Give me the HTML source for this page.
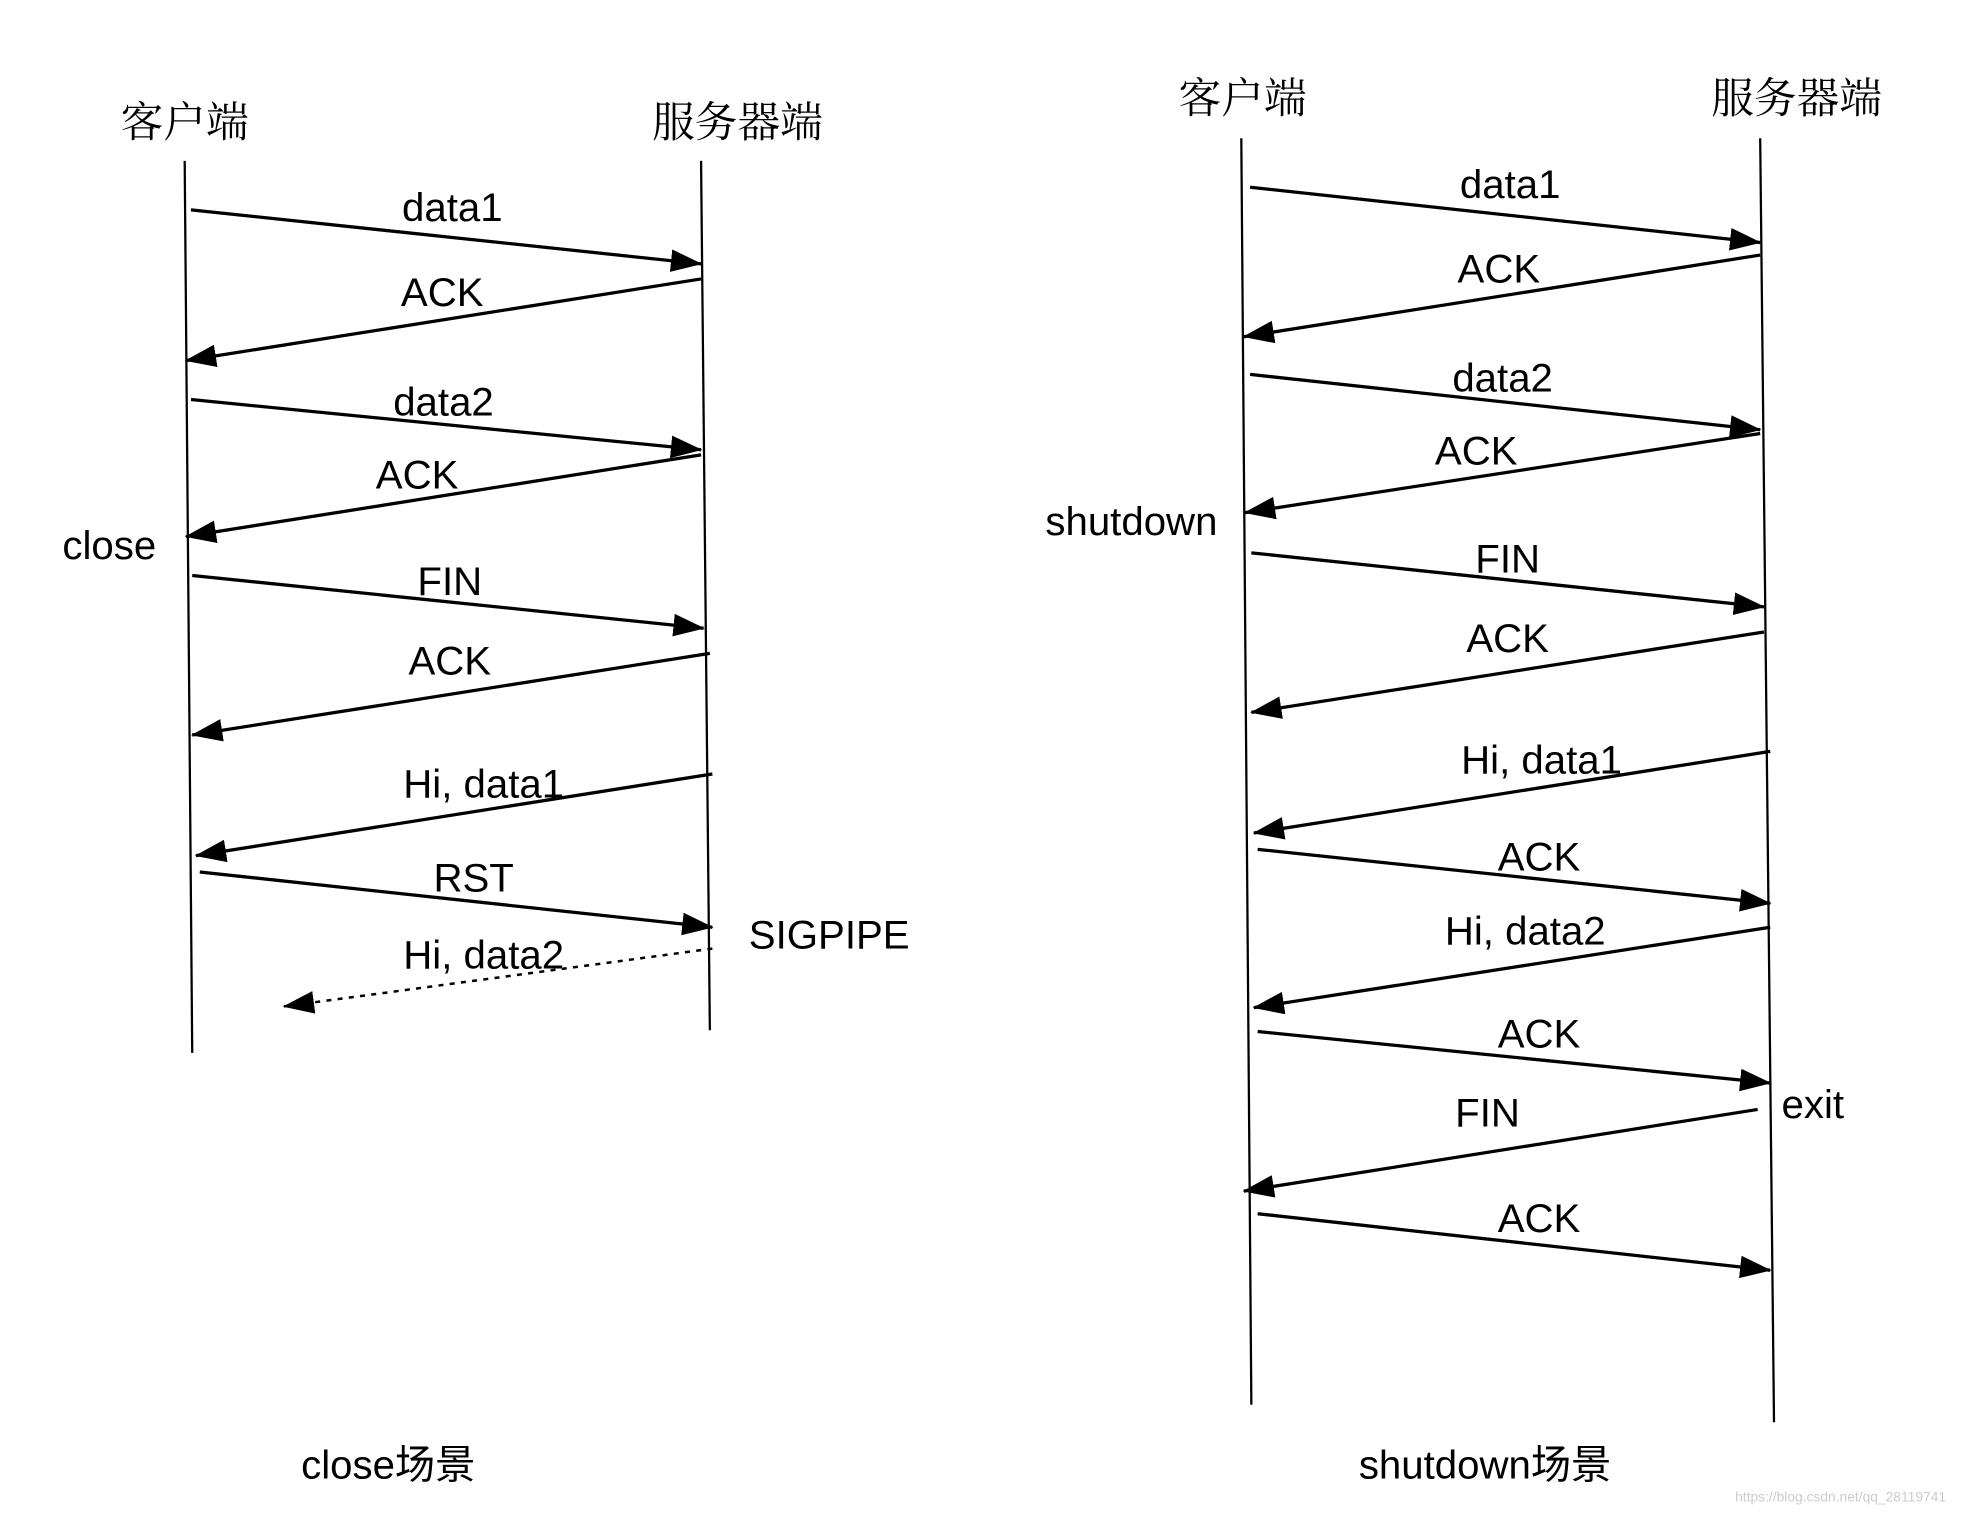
<!DOCTYPE html>
<html><head><meta charset="utf-8"><style>html,body{margin:0;padding:0;background:#fff}svg{display:block}</style></head>
<body>
<svg width="1970" height="1514" viewBox="0 0 1568 1205" preserveAspectRatio="none" xmlns="http://www.w3.org/2000/svg">
<defs>
<marker id="a" markerUnits="userSpaceOnUse" markerWidth="26" markerHeight="20" refX="24" refY="9" orient="auto"><path d="M0,0 L25,9 L0,18 Z" fill="#000"/></marker>
</defs>
<rect width="1568" height="1205" fill="#fff"/>
<g font-family="'Liberation Sans','Noto Sans CJK SC',sans-serif" fill="#000" text-anchor="middle" dominant-baseline="central">
<text x="147" y="95" font-size="34" font-family="'Noto Serif CJK SC','Noto Sans CJK SC',serif">客户端</text>
<text x="587" y="95" font-size="34" font-family="'Noto Serif CJK SC','Noto Sans CJK SC',serif">服务器端</text>
<text x="989" y="76" font-size="34" font-family="'Noto Serif CJK SC','Noto Sans CJK SC',serif">客户端</text>
<text x="1430" y="76" font-size="34" font-family="'Noto Serif CJK SC','Noto Sans CJK SC',serif">服务器端</text>
<g font-size="32" textLength="">
<text x="360" y="165">data1</text>
<text x="352" y="233">ACK</text>
<text x="353" y="320">data2</text>
<text x="332" y="378">ACK</text>
<text x="87" y="434">close</text>
<text x="358" y="463">FIN</text>
<text x="358" y="526">ACK</text>
<text x="385" y="624">Hi, data1</text>
<text x="377" y="699">RST</text>
<text x="596" y="744" text-anchor="start">SIGPIPE</text>
<text x="385" y="760">Hi, data2</text>
<text x="309" y="1166">close场景</text>
<text x="1202" y="147">data1</text>
<text x="1193" y="214">ACK</text>
<text x="1196" y="301">data2</text>
<text x="1175" y="359">ACK</text>
<text x="969" y="415" text-anchor="end">shutdown</text>
<text x="1200" y="445">FIN</text>
<text x="1200" y="508">ACK</text>
<text x="1227" y="605">Hi, data1</text>
<text x="1225" y="682">ACK</text>
<text x="1214" y="741">Hi, data2</text>
<text x="1225" y="823">ACK</text>
<text x="1418" y="879" text-anchor="start">exit</text>
<text x="1184" y="886">FIN</text>
<text x="1225" y="970">ACK</text>
<text x="1182" y="1166">shutdown场景</text>
</g>
<text x="1465" y="1191" font-size="11" fill="#ccc">https://blog.csdn.net/qq_28119741</text>
</g>
<g stroke="#000" stroke-width="1.8" fill="none">
<line x1="147" y1="128" x2="153" y2="838"/>
<line x1="558" y1="128" x2="565" y2="820"/>
<line x1="988" y1="110" x2="996" y2="1118"/>
<line x1="1401" y1="110" x2="1412" y2="1132"/>
</g>
<g stroke="#000" stroke-width="2.6" fill="none" marker-end="url(#a)">
<line x1="152" y1="167" x2="558" y2="210"/>
<line x1="558" y1="222" x2="148" y2="287"/>
<line x1="152" y1="318" x2="558" y2="358"/>
<line x1="558" y1="362" x2="148" y2="427"/>
<line x1="153" y1="458" x2="560" y2="500"/>
<line x1="565" y1="520" x2="153" y2="585"/>
<line x1="567" y1="616" x2="156" y2="681"/>
<line x1="159" y1="694" x2="567" y2="738"/>
<line x1="567" y1="755" x2="226" y2="801" stroke-dasharray="4,5" stroke-width="2"/>
<line x1="995" y1="149" x2="1401" y2="193"/>
<line x1="1401" y1="203" x2="990" y2="268"/>
<line x1="995" y1="298" x2="1401" y2="342"/>
<line x1="1401" y1="345" x2="991" y2="408"/>
<line x1="996" y1="440" x2="1404" y2="483"/>
<line x1="1404" y1="503" x2="996" y2="567"/>
<line x1="1409" y1="598" x2="998" y2="663"/>
<line x1="1001" y1="676" x2="1409" y2="719"/>
<line x1="1409" y1="738" x2="998" y2="802"/>
<line x1="1001" y1="821" x2="1409" y2="862"/>
<line x1="1399" y1="883" x2="990" y2="948"/>
<line x1="1001" y1="966" x2="1409" y2="1011"/>
</g>
</svg>
</body></html>
